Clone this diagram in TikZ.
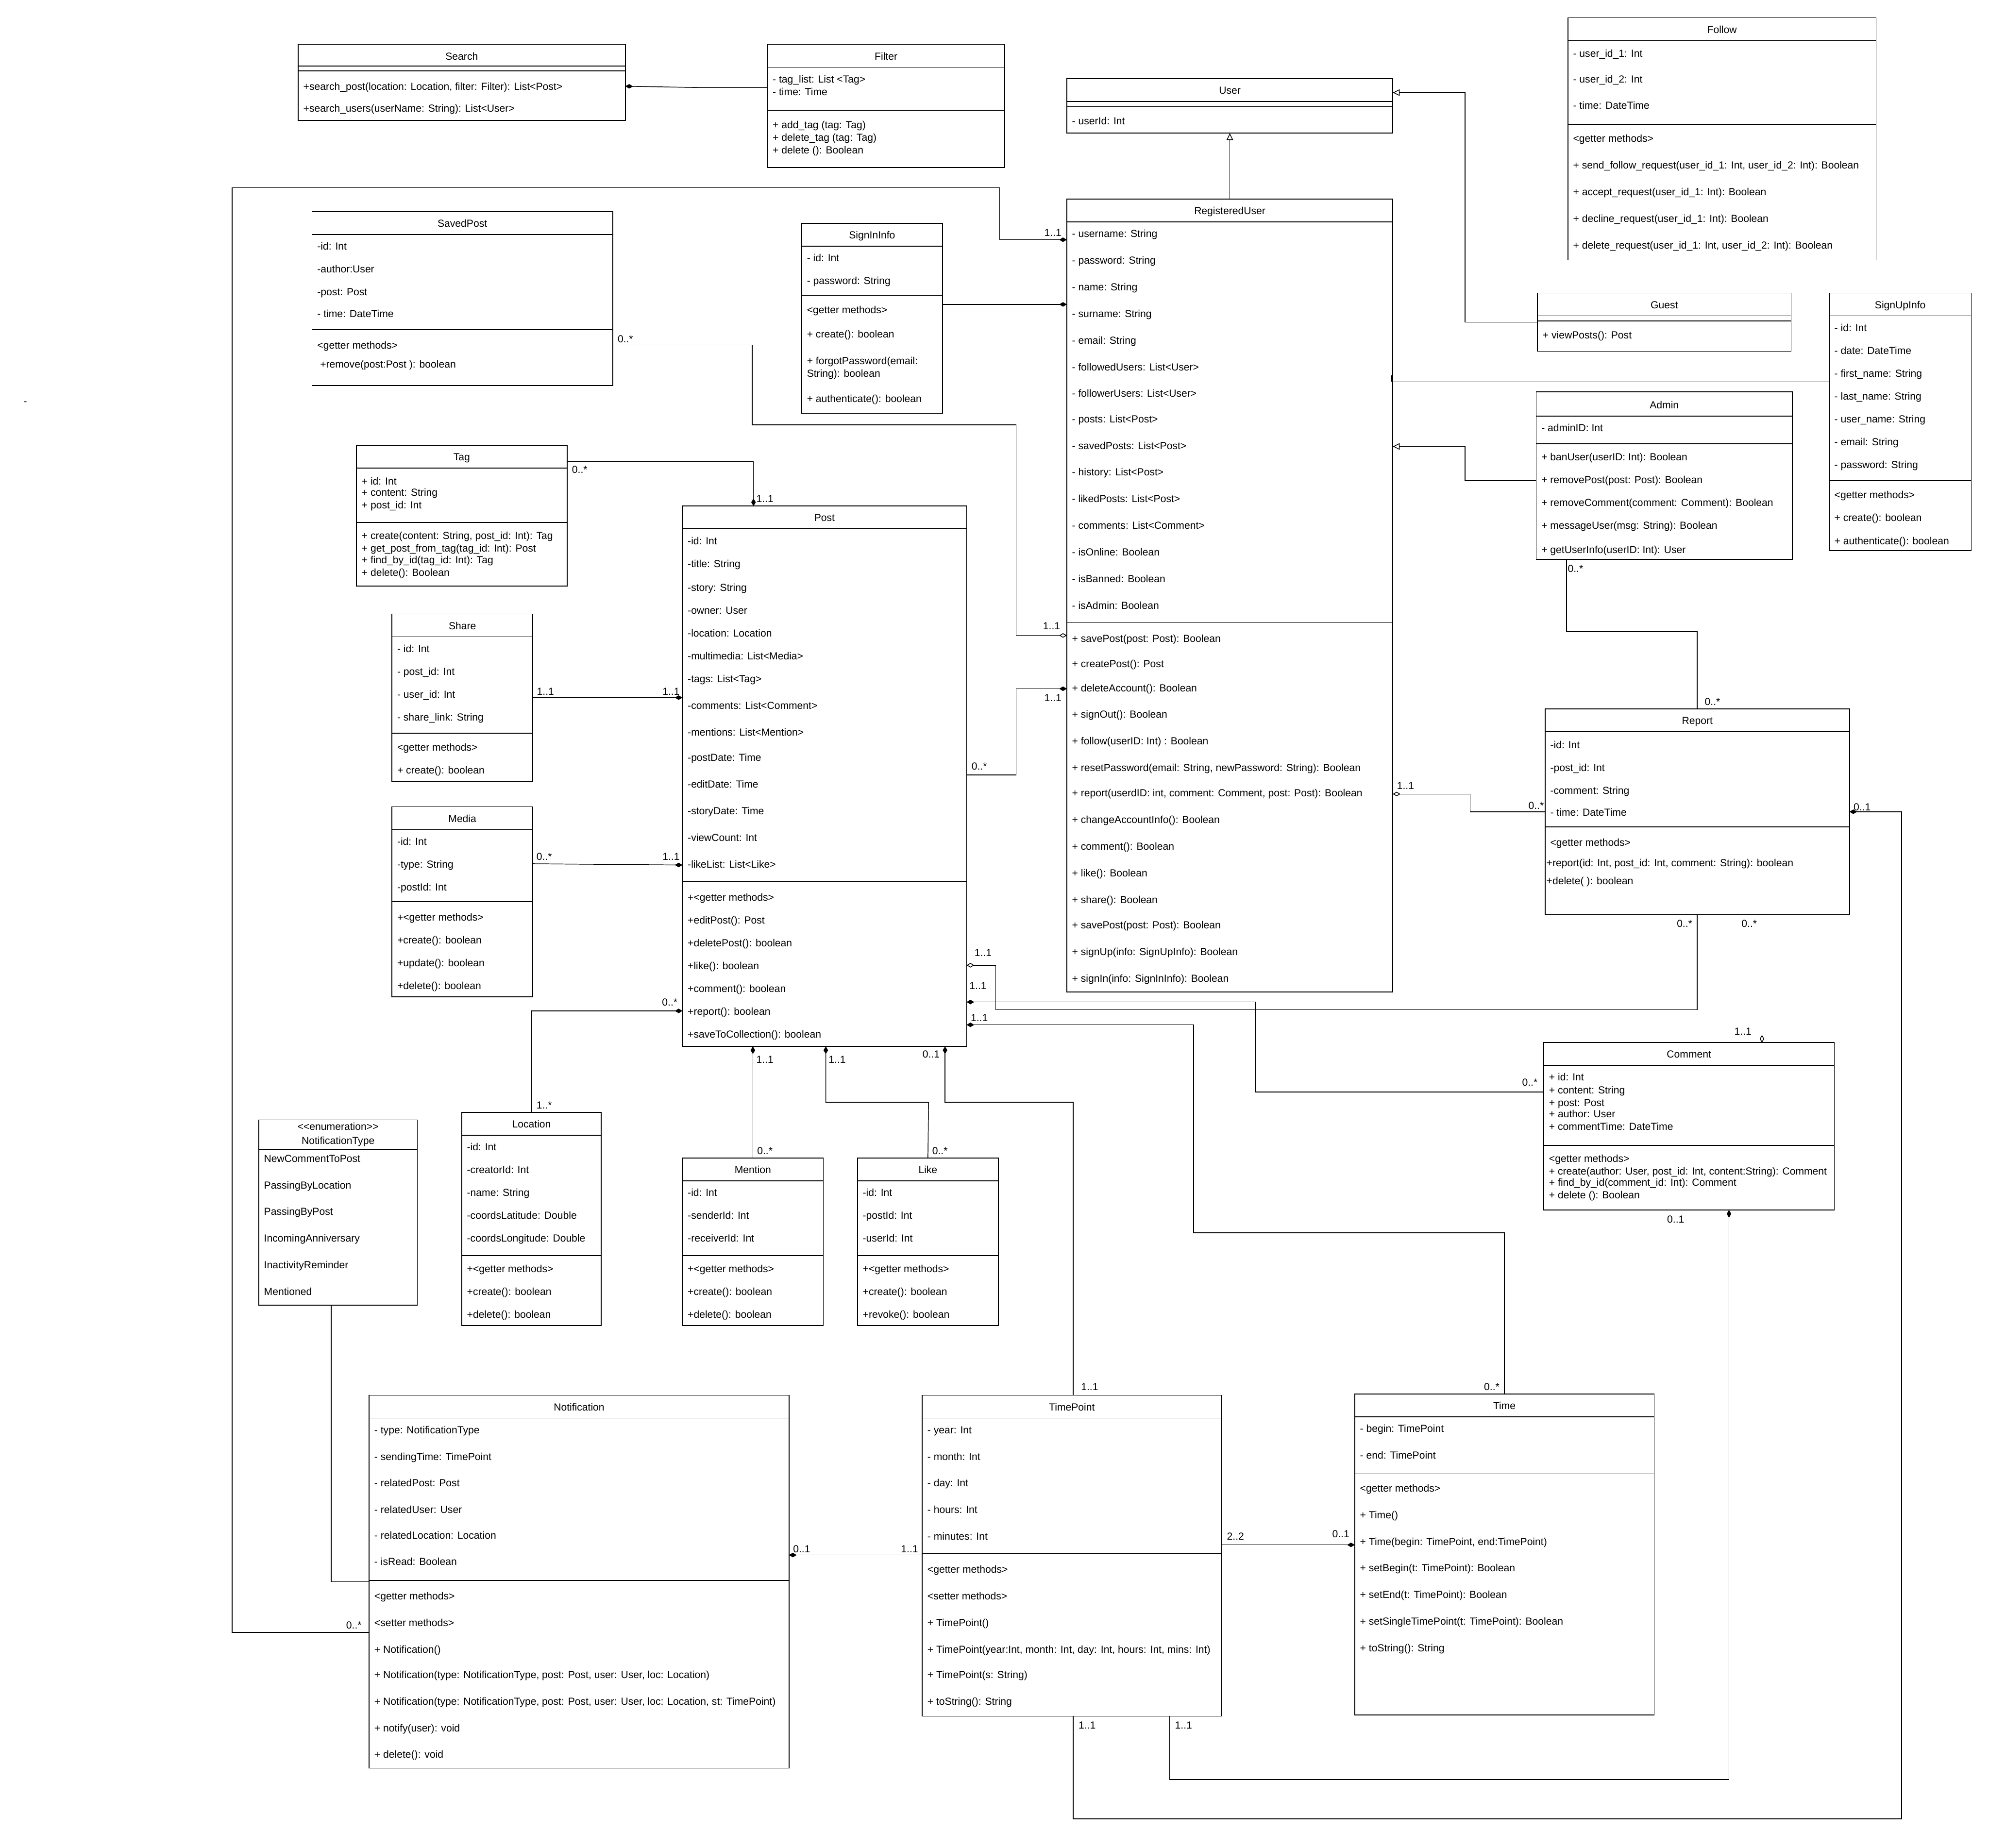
\documentclass[tikz,border=0pt]{standalone}
\usepackage{fontspec}
\setmainfont{Liberation Sans}
\usetikzlibrary{arrows.meta,fit}
\newcommand\fs{\fontsize{11.5pt}{13pt}\selectfont}
\newcounter{tn}
\tikzset{
 cls/.style={draw, line width=0.9pt, inner sep=0pt, outer sep=0pt, fill=white},
 sepl/.style={line width=0.9pt},
 tx/.style={inner sep=0pt, font=\fs, text height=0.72em, text depth=0pt, yshift=-0.3mm},
 atr/.style={tx, anchor=west, xshift=2mm},
 ttl/.style={tx, anchor=center},
 mult/.style={tx, anchor=center},
 conn/.style={line width=0.8pt},
 comp/.style={conn, -{Diamond[length=3mm,width=1.8mm]}},
 aggr/.style={conn, -{Diamond[open,fill=white,length=3mm,width=1.8mm]}},
 gen/.style={conn, -{Triangle[open,fill=white,length=2.7mm,width=2.6mm]}},
}
\newcommand\CB[5]{\node[cls, fit={(#2,#3) (#4,#5)}] (#1) {};}
\newcommand\UHL[2]{\draw[sepl] (#1.west |- 0,#2) -- (#1.east |- 0,#2);}
\newcommand\UAT[3]{\stepcounter{tn}\node[atr] (t\arabic{tn}) at (#1.west |- 0,#2) {#3};}
\newcommand\UTT[3]{\stepcounter{tn}\node[ttl] (t\arabic{tn}) at (#1.center |- 0,#2) {#3};}
\newcommand\ML[3]{\stepcounter{tn}\node[mult] (m\arabic{tn}) at (#1,#2) {#3};}
\begin{document}
\begin{tikzpicture}[x=0.5mm, y=-0.5mm]
\useasboundingbox[fill=white] (0,0) rectangle (1568,1456.8);

% ---------------- Search
\CB{search}{235}{35}{493}{95}
\UTT{search}{44}{Search}
\UHL{search}{52}\UHL{search}{56}
\UAT{search}{68}{+search\_post(location: Location, filter: Filter): List<Post>}
\UAT{search}{85}{+search\_users(userName: String): List<User>}

% ---------------- Filter
\CB{filter}{605}{35}{792}{132}
\UTT{filter}{44}{Filter}
\UHL{filter}{53}
\UAT{filter}{62}{- tag\_list: List <Tag>}
\UAT{filter}{72}{- time: Time}
\UHL{filter}{87}
\UAT{filter}{98}{+ add\_tag (tag: Tag)}
\UAT{filter}{108}{+ delete\_tag (tag: Tag)}
\UAT{filter}{118}{+ delete (): Boolean}

% ---------------- User
\CB{user}{841}{62}{1098}{105}
\UTT{user}{71}{User}
\UHL{user}{80}\UHL{user}{84}
\UAT{user}{95}{- userId: Int}

% ---------------- Follow
\CB{follow}{1236}{14}{1479}{205}
\UTT{follow}{23}{Follow}
\UHL{follow}{32}
\UAT{follow}{42}{- user\_id\_1: Int}
\UAT{follow}{62}{- user\_id\_2: Int}
\UAT{follow}{83}{- time: DateTime}
\UHL{follow}{98}
\UAT{follow}{109}{<getter methods>}
\UAT{follow}{130}{+ send\_follow\_request(user\_id\_1: Int, user\_id\_2: Int): Boolean}
\UAT{follow}{151}{+ accept\_request(user\_id\_1: Int): Boolean}
\UAT{follow}{172}{+ decline\_request(user\_id\_1: Int): Boolean}
\UAT{follow}{193}{+ delete\_request(user\_id\_1: Int, user\_id\_2: Int): Boolean}

% ---------------- RegisteredUser
\CB{ru}{841}{157}{1098}{782}
\UTT{ru}{166}{RegisteredUser}
\UHL{ru}{175}
\UAT{ru}{184}{- username: String}
\UAT{ru}{205}{- password: String}
\UAT{ru}{226}{- name: String}
\UAT{ru}{247}{- surname: String}
\UAT{ru}{268}{- email: String}
\UAT{ru}{289}{- followedUsers: List<User>}
\UAT{ru}{310}{- followerUsers: List<User>}
\UAT{ru}{330}{- posts: List<Post>}
\UAT{ru}{351}{- savedPosts: List<Post>}
\UAT{ru}{372}{- history: List<Post>}
\UAT{ru}{393}{- likedPosts: List<Post>}
\UAT{ru}{414}{- comments: List<Comment>}
\UAT{ru}{435}{- isOnline: Boolean}
\UAT{ru}{456}{- isBanned: Boolean}
\UAT{ru}{477}{- isAdmin: Boolean}
\UHL{ru}{491}
\UAT{ru}{503}{+ savePost(post: Post): Boolean}
\UAT{ru}{523}{+ createPost(): Post}
\UAT{ru}{542}{+ deleteAccount(): Boolean}
\UAT{ru}{563}{+ signOut(): Boolean}
\UAT{ru}{584}{+ follow(userID: Int) : Boolean}
\UAT{ru}{605}{+ resetPassword(email: String, newPassword: String): Boolean}
\UAT{ru}{625}{+ report(userdID: int, comment: Comment, post: Post): Boolean}
\UAT{ru}{646}{+ changeAccountInfo(): Boolean}
\UAT{ru}{667}{+ comment(): Boolean}
\UAT{ru}{688}{+ like(): Boolean}
\UAT{ru}{709}{+ share(): Boolean}
\UAT{ru}{729}{+ savePost(post: Post): Boolean}
\UAT{ru}{750}{+ signUp(info: SignUpInfo): Boolean}
\UAT{ru}{771}{+ signIn(info: SignInInfo): Boolean}

% ---------------- Guest
\CB{guest}{1212}{231}{1412}{277}
\UTT{guest}{240}{Guest}
\UHL{guest}{249}\UHL{guest}{253}
\UAT{guest}{264}{+ viewPosts(): Post}

% ---------------- Admin
\CB{admin}{1211}{309}{1413}{441}
\UTT{admin}{319}{Admin}
\UHL{admin}{328}
\UAT{admin}{337}{- adminID: Int}
\UHL{admin}{350}
\UAT{admin}{360}{+ banUser(userID: Int): Boolean}
\UAT{admin}{378}{+ removePost(post: Post): Boolean}
\UAT{admin}{396}{+ removeComment(comment: Comment): Boolean}
\UAT{admin}{414}{+ messageUser(msg: String): Boolean}
\UAT{admin}{433}{+ getUserInfo(userID: Int): User}

% ---------------- SignUpInfo
\CB{signup}{1442}{231}{1554}{434}
\UTT{signup}{240}{SignUpInfo}
\UHL{signup}{249}
\UAT{signup}{258}{- id: Int}
\UAT{signup}{276}{- date: DateTime}
\UAT{signup}{294}{- first\_name: String}
\UAT{signup}{312}{- last\_name: String}
\UAT{signup}{330}{- user\_name: String}
\UAT{signup}{348}{- email: String}
\UAT{signup}{366}{- password: String}
\UHL{signup}{379}
\UAT{signup}{390}{<getter methods>}
\UAT{signup}{408}{+ create(): boolean}
\UAT{signup}{426}{+ authenticate(): boolean}

% ---------------- SignInInfo
\CB{signin}{632}{176}{743}{326}
\UTT{signin}{185}{SignInInfo}
\UHL{signin}{194}
\UAT{signin}{203}{- id: Int}
\UAT{signin}{221}{- password: String}
\UHL{signin}{233}
\UAT{signin}{244}{<getter methods>}
\UAT{signin}{263}{+ create(): boolean}
\UAT{signin}{284}{+ forgotPassword(email:}
\UAT{signin}{294}{String): boolean}
\UAT{signin}{314}{+ authenticate(): boolean}

% ---------------- SavedPost
\CB{savedpost}{246}{167}{483}{304}
\UTT{savedpost}{176}{SavedPost}
\UHL{savedpost}{185}
\UAT{savedpost}{194}{-id: Int}
\UAT{savedpost}{212}{-author:User}
\UAT{savedpost}{230}{-post: Post}
\UAT{savedpost}{247}{- time: DateTime}
\UHL{savedpost}{260}
\UAT{savedpost}{272}{<getter methods>}
\UAT{savedpost}{287}{\ +remove(post:Post ): boolean}

% ---------------- Tag
\CB{tag}{281}{351}{447}{462}
\UTT{tag}{360}{Tag}
\UHL{tag}{369}
\UAT{tag}{379}{+ id: Int}
\UAT{tag}{388}{+ content: String}
\UAT{tag}{398}{+ post\_id: Int}
\UHL{tag}{412}
\UAT{tag}{422}{+ create(content: String, post\_id: Int): Tag}
\UAT{tag}{432}{+ get\_post\_from\_tag(tag\_id: Int): Post}
\UAT{tag}{441}{+ find\_by\_id(tag\_id: Int): Tag}
\UAT{tag}{451}{+ delete(): Boolean}

% ---------------- Post
\CB{post}{538}{399}{762}{825}
\UTT{post}{408}{Post}
\UHL{post}{417}
\UAT{post}{426}{-id: Int}
\UAT{post}{444}{-title: String}
\UAT{post}{463}{-story: String}
\UAT{post}{481}{-owner: User}
\UAT{post}{499}{-location: Location}
\UAT{post}{517}{-multimedia: List<Media>}
\UAT{post}{535}{-tags: List<Tag>}
\UAT{post}{556}{-comments: List<Comment>}
\UAT{post}{577}{-mentions: List<Mention>}
\UAT{post}{597}{-postDate: Time}
\UAT{post}{618}{-editDate: Time}
\UAT{post}{639}{-storyDate: Time}
\UAT{post}{660}{-viewCount: Int}
\UAT{post}{681}{-likeList: List<Like>}
\UHL{post}{695}
\UAT{post}{707}{+<getter methods>}
\UAT{post}{725}{+editPost(): Post}
\UAT{post}{743}{+deletePost(): boolean}
\UAT{post}{761}{+like(): boolean}
\UAT{post}{779}{+comment(): boolean}
\UAT{post}{797}{+report(): boolean}
\UAT{post}{815}{+saveToCollection(): boolean}

% ---------------- Share
\CB{share}{309}{484}{420}{616}
\UTT{share}{493}{Share}
\UHL{share}{502}
\UAT{share}{511}{- id: Int}
\UAT{share}{529}{- post\_id: Int}
\UAT{share}{547}{- user\_id: Int}
\UAT{share}{565}{- share\_link: String}
\UHL{share}{578}
\UAT{share}{589}{<getter methods>}
\UAT{share}{607}{+ create(): boolean}

% ---------------- Media
\CB{media}{309}{636}{420}{786}
\UTT{media}{645}{Media}
\UHL{media}{654}
\UAT{media}{663}{-id: Int}
\UAT{media}{681}{-type: String}
\UAT{media}{699}{-postId: Int}
\UHL{media}{711}
\UAT{media}{723}{+<getter methods>}
\UAT{media}{741}{+create(): boolean}
\UAT{media}{759}{+update(): boolean}
\UAT{media}{777}{+delete(): boolean}

% ---------------- Location
\CB{location}{364}{877}{474}{1045}
\UTT{location}{886}{Location}
\UHL{location}{895}
\UAT{location}{904}{-id: Int}
\UAT{location}{922}{-creatorId: Int}
\UAT{location}{940}{-name: String}
\UAT{location}{958}{-coordsLatitude: Double}
\UAT{location}{976}{-coordsLongitude: Double}
\UHL{location}{990}
\UAT{location}{1000}{+<getter methods>}
\UAT{location}{1018}{+create(): boolean}
\UAT{location}{1036}{+delete(): boolean}

% ---------------- Mention
\CB{mention}{538}{913}{649}{1045}
\UTT{mention}{922}{Mention}
\UHL{mention}{931}
\UAT{mention}{940}{-id: Int}
\UAT{mention}{958}{-senderId: Int}
\UAT{mention}{976}{-receiverId: Int}
\UHL{mention}{990}
\UAT{mention}{1000}{+<getter methods>}
\UAT{mention}{1018}{+create(): boolean}
\UAT{mention}{1036}{+delete(): boolean}

% ---------------- Like
\CB{like}{676}{913}{787}{1045}
\UTT{like}{922}{Like}
\UHL{like}{931}
\UAT{like}{940}{-id: Int}
\UAT{like}{958}{-postId: Int}
\UAT{like}{976}{-userId: Int}
\UHL{like}{990}
\UAT{like}{1000}{+<getter methods>}
\UAT{like}{1018}{+create(): boolean}
\UAT{like}{1036}{+revoke(): boolean}

% ---------------- NotificationType
\CB{ntype}{204}{883}{329}{1029}
\UTT{ntype}{888}{{<}{<}enumeration{>}{>}}
\UTT{ntype}{899}{NotificationType}
\UHL{ntype}{906}
\UAT{ntype}{913}{NewCommentToPost}
\UAT{ntype}{934}{PassingByLocation}
\UAT{ntype}{955}{PassingByPost}
\UAT{ntype}{976}{IncomingAnniversary}
\UAT{ntype}{997}{InactivityReminder}
\UAT{ntype}{1018}{Mentioned}

% ---------------- Report
\CB{report}{1218}{559}{1458}{721}
\UTT{report}{568}{Report}
\UHL{report}{577}
\UAT{report}{587}{-id: Int}
\UAT{report}{605}{-post\_id: Int}
\UAT{report}{623}{-comment: String}
\UAT{report}{640}{- time: DateTime}
\UHL{report}{652}
\UAT{report}{664}{<getter methods>}
\node[tx, anchor=west, xshift=0.5mm] (t900) at (report.west |- 0,680) {+report(id: Int, post\_id: Int, comment: String): boolean};
\node[tx, anchor=west, xshift=0.5mm] (t901) at (report.west |- 0,694) {+delete( ): boolean};

% ---------------- Comment
\CB{comment}{1217}{822}{1446}{954}
\UTT{comment}{831}{Comment}
\UHL{comment}{840}
\UAT{comment}{849}{+ id: Int}
\UAT{comment}{859}{+ content: String}
\UAT{comment}{869}{+ post: Post}
\UAT{comment}{878}{+ author: User}
\UAT{comment}{888}{+ commentTime: DateTime}
\UHL{comment}{903}
\UAT{comment}{913}{<getter methods>}
\UAT{comment}{923}{+ create(author: User, post\_id: Int, content:String): Comment}
\UAT{comment}{932}{+ find\_by\_id(comment\_id: Int): Comment}
\UAT{comment}{942}{+ delete (): Boolean}

% ---------------- Notification
\CB{notif}{291}{1100}{622}{1394}
\UTT{notif}{1109}{Notification}
\UHL{notif}{1118}
\UAT{notif}{1127}{- type: NotificationType}
\UAT{notif}{1148}{- sendingTime: TimePoint}
\UAT{notif}{1169}{- relatedPost: Post}
\UAT{notif}{1190}{- relatedUser: User}
\UAT{notif}{1210}{- relatedLocation: Location}
\UAT{notif}{1231}{- isRead: Boolean}
\UHL{notif}{1246}
\UAT{notif}{1258}{<getter methods>}
\UAT{notif}{1279}{<setter methods>}
\UAT{notif}{1300}{+ Notification()}
\UAT{notif}{1320}{+ Notification(type: NotificationType, post: Post, user: User, loc: Location)}
\UAT{notif}{1341}{+ Notification(type: NotificationType, post: Post, user: User, loc: Location, st: TimePoint)}
\UAT{notif}{1362}{+ notify(user): void}
\UAT{notif}{1383}{+ delete(): void}

% ---------------- TimePoint
\CB{timepoint}{727}{1100}{963}{1353}
\UTT{timepoint}{1109}{TimePoint}
\UHL{timepoint}{1118}
\UAT{timepoint}{1127}{- year: Int}
\UAT{timepoint}{1148}{- month: Int}
\UAT{timepoint}{1169}{- day: Int}
\UAT{timepoint}{1190}{- hours: Int}
\UAT{timepoint}{1211}{- minutes: Int}
\UHL{timepoint}{1225}
\UAT{timepoint}{1237}{<getter methods>}
\UAT{timepoint}{1258}{<setter methods>}
\UAT{timepoint}{1279}{+ TimePoint()}
\UAT{timepoint}{1300}{+ TimePoint(year:Int, month: Int, day: Int, hours: Int, mins: Int)}
\UAT{timepoint}{1320}{+ TimePoint(s: String)}
\UAT{timepoint}{1341}{+ toString(): String}

% ---------------- Time
\CB{time}{1068}{1099}{1304}{1352}
\UTT{time}{1108}{Time}
\UHL{time}{1117}
\UAT{time}{1126}{- begin: TimePoint}
\UAT{time}{1147}{- end: TimePoint}
\UHL{time}{1162}
\UAT{time}{1173}{<getter methods>}
\UAT{time}{1194}{+ Time()}
\UAT{time}{1215}{+ Time(begin: TimePoint, end:TimePoint)}
\UAT{time}{1236}{+ setBegin(t: TimePoint): Boolean}
\UAT{time}{1257}{+ setEnd(t: TimePoint): Boolean}
\UAT{time}{1278}{+ setSingleTimePoint(t: TimePoint): Boolean}
\UAT{time}{1299}{+ toString(): String}

% stray mark
\node[tx] (stray) at (20,316) {-};

% ================= Connectors
\draw[comp] (filter.west |- 0,69) -- (550,69) -- (search.east |- 0,68);
\draw[gen] (ru.north) -- (user.south);
\draw[gen] (guest.west |- 0,254) -- (1155,254) -- (1155,73) -- (user.east |- 0,73);
\draw[gen] (admin.west |- 0,379) -- (1155,379) -- (1155,352) -- (ru.east |- 0,352);
\draw[conn] (signup.west |- 0,301) -- (ru.east |- 0,301);
\draw[line width=1.2pt] ([xshift=-0.35mm]ru.east |- 0,296) -- ([xshift=-0.35mm]ru.east |- 0,301);
\draw[comp] (signin.east |- 0,240) -- (ru.west |- 0,240);
\draw[aggr] (savedpost.east |- 0,272) -- (593,272) -- (593,335) -- (801,335) -- (801,501) -- (ru.west |- 0,501);
\draw[comp] (notif.west |- 0,1287) -- (183,1287) -- (183,148) -- (788,148) -- (788,189) -- (ru.west |- 0,189);
\draw[comp] (tag.east |- 0,364) -- (594,364) -- (post.north -| 594,0);
\draw[comp] (share.east |- 0,550) -- (post.west |- 0,550);
\draw[comp] (media.east |- 0,681) -- (post.west |- 0,682);
\draw[comp] (location.north) -- (location.north |- 0,797) -- (post.west |- 0,797);
\draw[comp] (mention.north) -- (post.south -| mention.north);
\draw[comp] (like.north) -- (732,869) -- (651,869) -- (post.south -| 651,0);
\draw[comp] (timepoint.north -| 846,0) -- (846,869) -- (745,869) -- (post.south -| 745,0);
\draw[comp] (post.east |- 0,611) -- (801,611) -- (801,543) -- (ru.west |- 0,543);
\draw[aggr] (report.south -| 1338,0) -- (1338,796) -- (785,796) -- (785,761) -- (post.east |- 0,761);
\draw[comp] (comment.west |- 0,861) -- (990,861) -- (990,790) -- (post.east |- 0,790);
\draw[comp] (time.north) -- (1186,972) -- (941,972) -- (941,808) -- (post.east |- 0,808);
\draw[aggr] (report.west |- 0,640) -- (1159,640) -- (1159,626) -- (ru.east |- 0,626);
\draw[conn] (admin.south -| 1235,0) -- (1235,498) -- (1338,498) -- (report.north -| 1338,0);
\draw[aggr] (report.south -| 1389,0) -- (comment.north -| 1389,0);
\draw[comp] (timepoint.south -| 846,0) -- (846,1434) -- (1499,1434) -- (1499,640) -- (report.east |- 0,640);
\draw[comp] (timepoint.south -| 922,0) -- (922,1403) -- (1363,1403) -- (comment.south -| 1363,0);
\draw[comp] (timepoint.west |- 0,1226) -- (notif.east |- 0,1226);
\draw[comp] (timepoint.east |- 0,1218) -- (time.west |- 0,1218);
\draw[conn] (ntype.south -| 261,0) -- (261,1247) -- (notif.west |- 0,1247);

% ================= Multiplicities
\ML{830}{183}{1..1}
\ML{279}{1281}{0..*}
\ML{829}{493}{1..1}
\ML{493}{267}{0..*}
\ML{457}{370}{0..*}
\ML{603}{393}{1..1}
\ML{430}{545}{1..1}
\ML{529}{545}{1..1}
\ML{429}{675}{0..*}
\ML{529}{675}{1..1}
\ML{528}{790}{0..*}
\ML{429}{871}{1..*}
\ML{772}{604}{0..*}
\ML{830}{550}{1..1}
\ML{775}{751}{1..1}
\ML{771}{777}{1..1}
\ML{772}{802}{1..1}
\ML{603}{835}{1..1}
\ML{603}{907}{0..*}
\ML{660}{835}{1..1}
\ML{741}{907}{0..*}
\ML{734}{831}{0..1}
\ML{859}{1093}{1..1}
\ML{1176}{1093}{0..*}
\ML{1108}{619}{1..1}
\ML{1211}{635}{0..*}
\ML{1242}{448}{0..*}
\ML{1350}{553}{0..*}
\ML{1328}{728}{0..*}
\ML{1379}{728}{0..*}
\ML{1374}{813}{1..1}
\ML{1468}{636}{0..1}
\ML{857}{1360}{1..1}
\ML{1206}{853}{0..*}
\ML{1321}{961}{0..1}
\ML{933}{1360}{1..1}
\ML{632}{1221}{0..1}
\ML{717}{1221}{1..1}
\ML{974}{1211}{2..2}
\ML{1057}{1209}{0..1}
\end{tikzpicture}
\end{document}
